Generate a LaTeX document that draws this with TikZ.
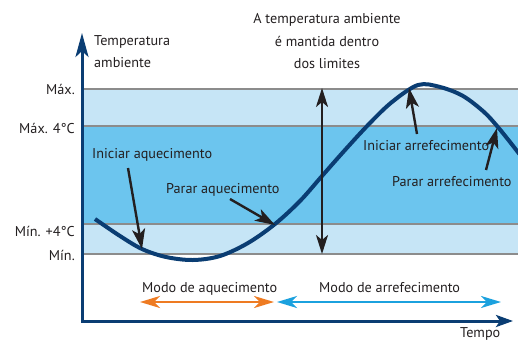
\documentclass[tikz,border=0pt]{standalone}
\usepackage{fontspec}
\setmainfont{PT Sans}
\usetikzlibrary{arrows.meta}
\definecolor{navy}{HTML}{0A3D73}
\definecolor{bandlight}{HTML}{C6E5F6}
\definecolor{banddark}{HTML}{6CC5EE}
\definecolor{gridgray}{HTML}{8C8C8C}
\definecolor{txt}{HTML}{231F20}
\definecolor{orng}{HTML}{EE7B22}
\definecolor{cyanb}{HTML}{1BA1DE}
\begin{document}
\begin{tikzpicture}[x=1pt,y=-1pt,
  lbl/.style={font=\fontsize{14.2}{22.5}\selectfont, text=txt, inner sep=0pt},
  limline/.style={draw=gridgray, line width=2pt},
  ptr/.style={draw=txt, line width=2.4pt, -{Stealth[length=20pt,width=13pt,inset=5pt]}},
  span/.style={draw=txt, line width=2.3pt, {Stealth[length=19pt,width=12pt,inset=5pt]}-{Stealth[length=19pt,width=12pt,inset=5pt]}},
  modearrow/.style={line width=2.6pt, {Stealth[length=20pt,width=12pt,inset=6pt]}-{Stealth[length=20pt,width=12pt,inset=6pt]}},
  curve/.style={draw=navy, line width=4pt}]
\useasboundingbox (0,0) rectangle (518,342);
\clip (0,0) rectangle (518,342);
% bands
\fill[bandlight] (82,89) rectangle (518,126);
\fill[banddark] (82,126) rectangle (518,224);
\fill[bandlight] (82,224) rectangle (518,254);
\coordinate (maxL) at (82,89);   \coordinate (maxR) at (518,89);
\coordinate (max4L) at (82,126); \coordinate (max4R) at (518,126);
\coordinate (min4L) at (82,224); \coordinate (min4R) at (518,224);
\coordinate (minL) at (82,254);  \coordinate (minR) at (518,254);
\draw[limline] (maxL) -- (maxR);
\draw[limline] (max4L) -- (max4R);
\draw[limline] (min4L) -- (min4R);
\draw[limline] (minL) -- (minR);
% axes
\coordinate (ytip) at (82,33);
\coordinate (origin) at (82,321);
\coordinate (xtip) at (513,321);
\draw[navy, line width=3pt, {Stealth[length=24pt,width=13pt,inset=6pt]}-{Stealth[length=17pt,width=12pt,inset=4pt]}]
  (ytip) -- (origin) -- (xtip);
% curve
\draw[curve] plot[smooth, tension=0.55] coordinates {
  (95,219) (120,236) (142,249) (166,257) (193,260) (220,256) (248,243)
  (275,224) (300,201) (322,176) (345,150) (369,124) (392,102) (418,85)
  (440,87) (463,96) (484,112) (497,126) (510,142) (524,160)};
% labels
\node[lbl, anchor=base west, align=left] (ylab) at (94,68) {Temperatura\\ambiente};
\node[lbl, anchor=base, align=center] (title) at (327,69) {A temperatura ambiente\\é mantida dentro\\dos limites};
\node[lbl, anchor=base east] (lmax) at (75,95) {Máx.};
\node[lbl, anchor=base east] (lmax4) at (75,133) {Máx. 4°C};
\node[lbl, anchor=base east] (lmin4) at (75,236) {Mín. +4°C};
\node[lbl, anchor=base east] (lmin) at (75,260) {Mín.};
\node[lbl, anchor=base west] (iaq) at (92,158) {Iniciar aquecimento};
\node[lbl, anchor=base west] (paq) at (166,193) {Parar aquecimento};
\node[lbl, anchor=base west] (iarr) at (363,150) {Iniciar arrefecimento};
\node[lbl, anchor=base west] (parr) at (392,186) {Parar arrefecimento};
\node[lbl, anchor=base west] (maq) at (142,292) {Modo de aquecimento};
\node[lbl, anchor=base west] (marr) at (319,292) {Modo de arrefecimento};
\node[lbl, anchor=base west] (tempo) at (460,337) {Tempo};
% pointer arrows
\coordinate (iaqS) at (128,168); \coordinate (iaqE) at (142,249);
\coordinate (paqS) at (230,199); \coordinate (paqE) at (275,225);
\coordinate (iarrS) at (417,134); \coordinate (iarrE) at (409,88);
\coordinate (parrS) at (486,170); \coordinate (parrE) at (497,128);
\draw[ptr] (iaqS) -- (iaqE);
\draw[ptr] (paqS) -- (paqE);
\draw[ptr] (iarrS) -- (iarrE);
\draw[ptr] (parrS) -- (parrE);
% span arrow
\coordinate (spanT) at (322,88); \coordinate (spanB) at (322,254);
\draw[span] (spanT) -- (spanB);
% mode arrows
\coordinate (oL) at (140,302); \coordinate (oR) at (274,302);
\coordinate (cL) at (277,302); \coordinate (cR) at (501,302);
\draw[modearrow, draw=orng, fill=orng] (oL) -- (oR);
\draw[modearrow, draw=cyanb, fill=cyanb] (cL) -- (cR);
\end{tikzpicture}
\end{document}
